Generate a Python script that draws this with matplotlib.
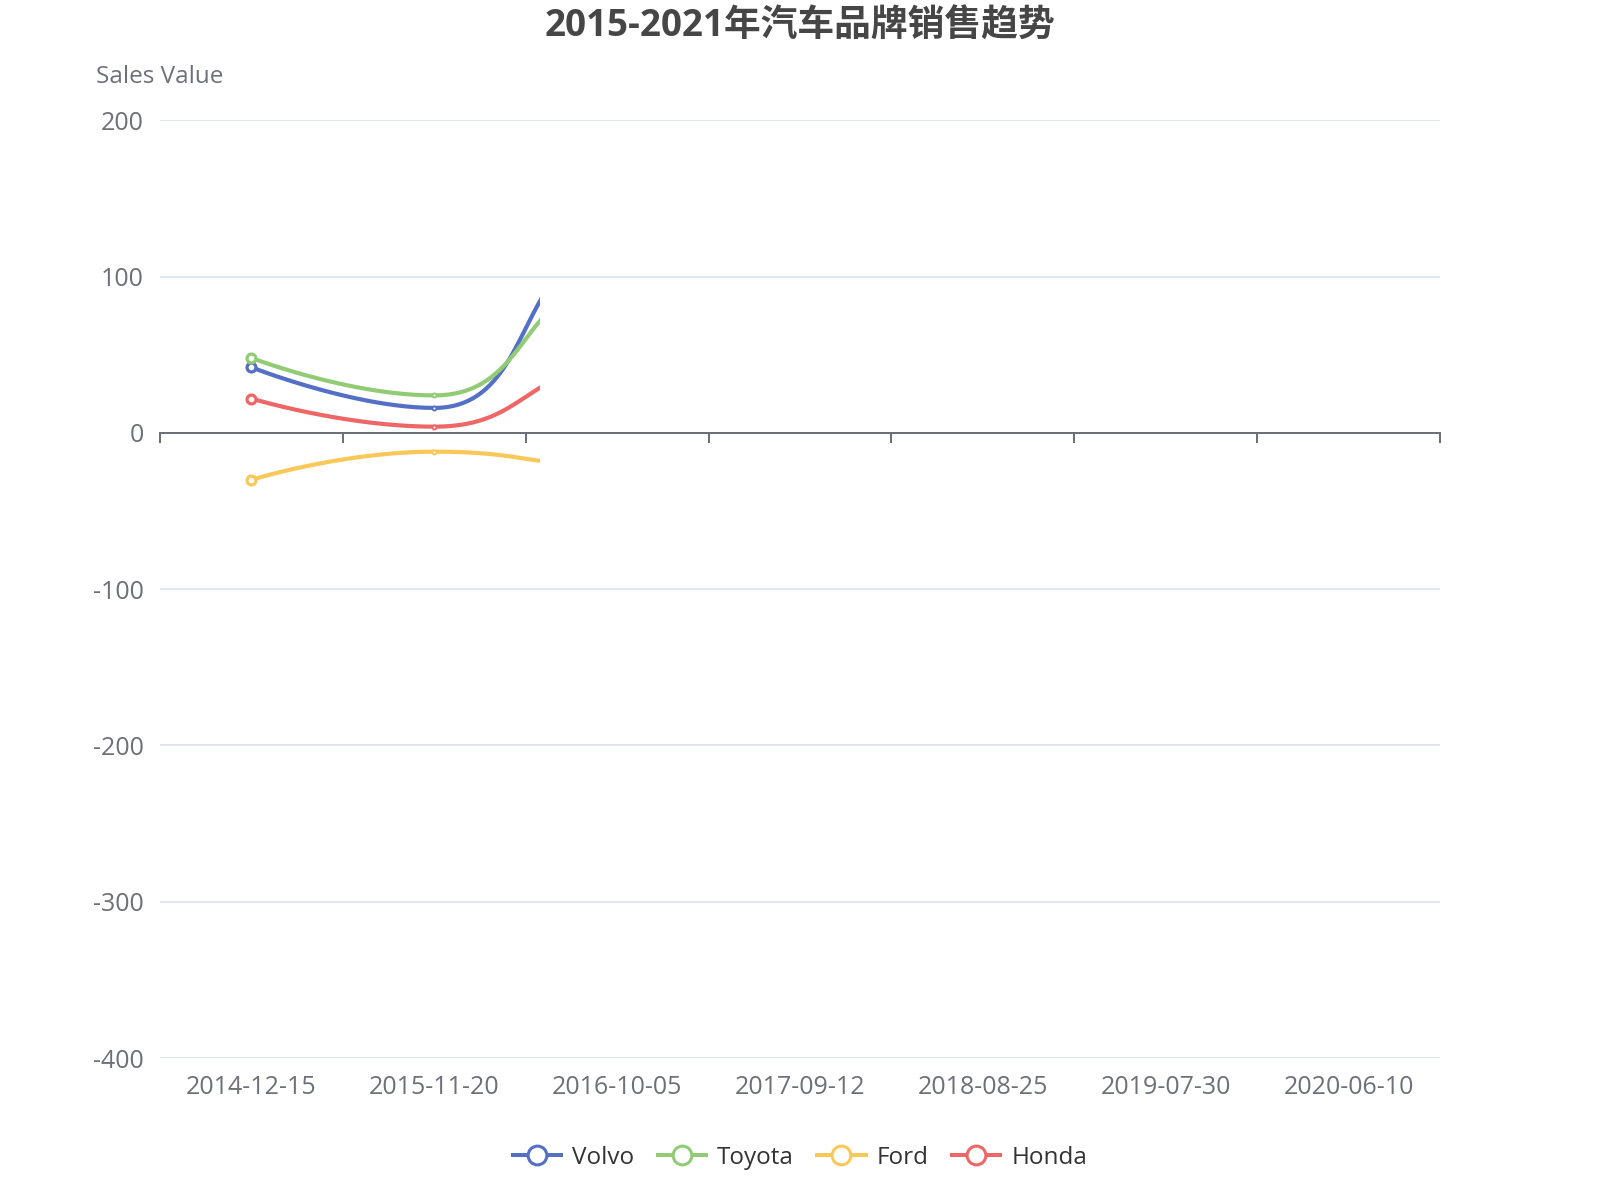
import numpy as np
import matplotlib
matplotlib.use("Agg")
import matplotlib.pyplot as plt
from matplotlib.lines import Line2D
from matplotlib.patches import Rectangle

plt.rcParams['font.family'] = ['Open Sans', 'Noto Sans CJK SC', 'DejaVu Sans']
plt.rcParams['axes.unicode_minus'] = False

dates = ['2014-12-15', '2015-11-20', '2016-10-05', '2017-09-12',
         '2018-08-25', '2019-07-30', '2020-06-10']
brands = ['Volvo', 'Toyota', 'Ford', 'Honda']
# only the start of each series is on screen, later points are estimates
volvo = [42, 16, 118, 90]
toyota = [48, 24, 96, 75]
ford = [-30, -12, -21, -15]
honda = [22, 4, 42, 35]
colors = ['#5470c6', '#91cc75', '#fac858', '#ee6666']

# snapshot taken mid intro-animation: lines revealed up to this x (category index)
reveal = 1.578
# symbol scale of the points already revealed (second one still growing)
symbol_scale = [1.0, 0.45]

AXIS_GREY = '#6E7079'
GRID = '#E0E6F1'


def smooth_path(xs, ys, sx, sy, smooth=0.5, n=80):
    # bezier smoothing the way echarts does it, worked out in pixel units
    px = np.asarray(xs, float) * sx
    py = np.asarray(ys, float) * sy
    m = len(px)
    out_x, out_y = [px[0]], [py[0]]
    cp0 = (px[0], py[0])
    t = np.linspace(0, 1, n)[1:, None]
    for i in range(1, m):
        x, y = px[i], py[i]
        xp, yp = px[i - 1], py[i - 1]
        nxt = None
        if i == m - 1:
            cp1 = (x, y)
        else:
            xn, yn = px[i + 1], py[i + 1]
            vx, vy = xn - xp, yn - yp
            l0 = np.hypot(x - xp, y - yp)
            l1 = np.hypot(xn - x, yn - y)
            r = l1 / (l0 + l1)
            ncx = x + vx * smooth * r
            ncy = y + vy * smooth * r
            ncx = max(min(ncx, max(xn, x)), min(xn, x))
            ncy = max(min(ncy, max(yn, y)), min(yn, y))
            vx, vy = ncx - x, ncy - y
            c1x = x - vx * l0 / l1
            c1y = y - vy * l0 / l1
            c1x = max(min(c1x, max(xp, x)), min(xp, x))
            c1y = max(min(c1y, max(yp, y)), min(yp, y))
            vx, vy = x - c1x, y - c1y
            nxt = (x + vx * l1 / l0, y + vy * l1 / l0)
            cp1 = (c1x, c1y)
        p0 = np.array([xp, yp])
        p3 = np.array([x, y])
        pts = ((1 - t) ** 3 * p0 + 3 * (1 - t) ** 2 * t * np.array(cp0)
               + 3 * (1 - t) * t ** 2 * np.array(cp1) + t ** 3 * p3)
        out_x.extend(pts[:, 0])
        out_y.extend(pts[:, 1])
        cp0 = nxt
    return np.array(out_x) / sx, np.array(out_y) / sy


fig = plt.figure(figsize=(16, 12), dpi=100)
ax = fig.add_axes([0.1, 0.1183, 0.8, 0.7814])

ax.set_xlim(-0.5, len(dates) - 0.5)
ax.set_ylim(-400, 200)

# pixels per category / per unit, for the smoothing
sx = 1600 * 0.8 / len(dates)
sy = 1200 * 0.7814 / 600

series = [volvo, toyota, ford, honda]
for name, vals, c in zip(brands, series, colors):
    idx = np.arange(len(vals))
    cx, cy = smooth_path(idx, vals, sx, sy)
    line, = ax.plot(cx, cy, color=c, lw=3.0, solid_capstyle='butt', zorder=3)
    clip = Rectangle((-0.5, -400), reveal + 0.5, 600, transform=ax.transData,
                     facecolor='none', edgecolor='none')
    ax.add_patch(clip)
    line.set_clip_path(clip)
    for i, s in enumerate(symbol_scale):
        ax.plot(idx[i], vals[i], marker='o', ms=6.4 * s, mfc='white', mec=c,
                mew=1.7 * s + 0.6, zorder=4)

# y axis: labels + grid, no line
yticks = list(range(-400, 201, 100))
ax.set_yticks(yticks)
ax.tick_params(axis='y', length=0, pad=11.5, labelsize=18, labelcolor=AXIS_GREY)
for lbl in ax.get_yticklabels():
    lbl.set_va('center_baseline')
ax.yaxis.grid(True, color=GRID, lw=1.4)
ax.yaxis.get_gridlines()[yticks.index(0)].set_visible(False)
ax.set_axisbelow(True)
for sp in ax.spines.values():
    sp.set_visible(False)

# category labels at the bottom
ax.set_xticks(range(len(dates)))
ax.set_xticklabels(dates)
ax.tick_params(axis='x', length=0, pad=12, labelsize=18, labelcolor=AXIS_GREY)

# x axis line sits on zero, ticks at category boundaries
zero = ax.secondary_xaxis(400 / 600)
zero.set_alignment('bottom')
zero.set_xticks(np.arange(-0.5, len(dates), 1.0))
zero.tick_params(axis='x', direction='out', length=7.2, width=1.44,
                 color=AXIS_GREY, labelbottom=False, labeltop=False)
zero.spines['bottom'].set_color(AXIS_GREY)
zero.spines['bottom'].set_linewidth(1.44)

ax.annotate('Sales Value', xy=(0, 1), xycoords='axes fraction', xytext=(0, 31.5),
            textcoords='offset points', ha='center', va='center',
            fontsize=17.5, color=AXIS_GREY)

fig.text(0.5, 1 - 27 / 1200, '2015-2021年汽车品牌销售趋势', ha='center', va='center',
         fontsize=26.5, fontweight='bold', color='#464646')

handles = [Line2D([], [], color=c, lw=2.9, marker='o', ms=13.5, mfc='white',
                  mec=c, mew=2.2) for c in colors]
fig.legend(handles, brands, loc='center', bbox_to_anchor=(0.5, 1 - 1158 / 1200),
           ncol=4, frameon=False, fontsize=17.5, labelcolor='#333333',
           handlelength=2.0, handletextpad=0.45, columnspacing=0.95)

fig.savefig('out.png', dpi=100)
